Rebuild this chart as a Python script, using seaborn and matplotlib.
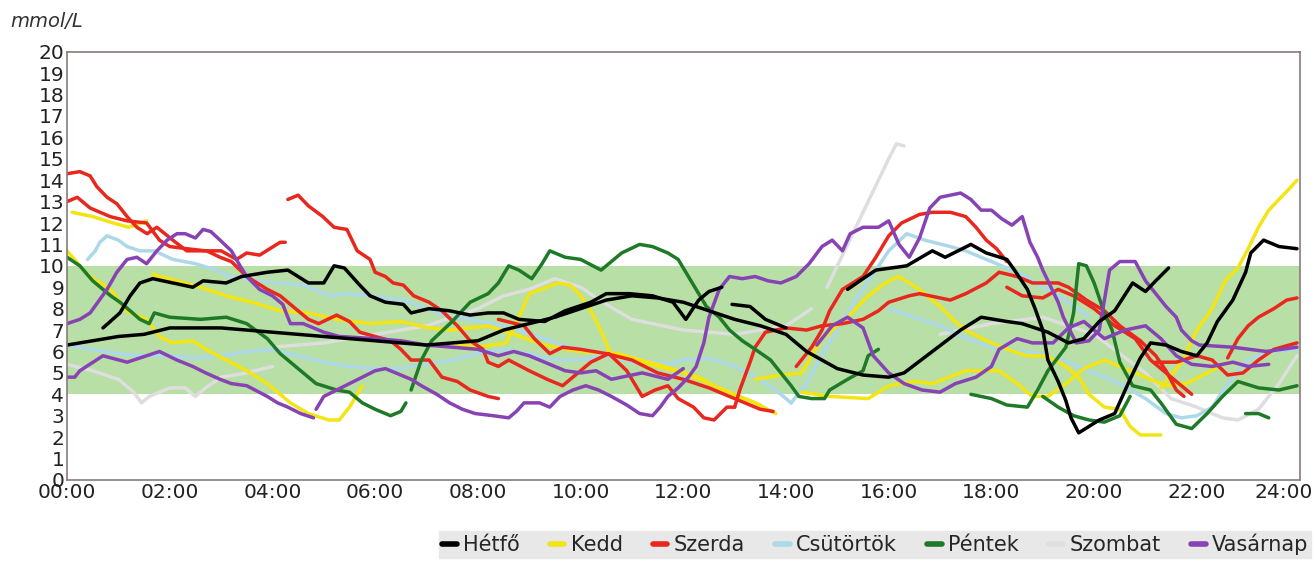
import pandas as pd
import numpy as np
import seaborn as sns
import matplotlib.pyplot as plt
from matplotlib.lines import Line2D
from matplotlib.ticker import MultipleLocator
from matplotlib.transforms import ScaledTranslation

# glucose traces, (hour, mmol/L); several weeks per weekday
hetfo = [
    [(0,6.3),(0.5,6.5),(1,6.7),(1.5,6.8),(2,7.1),(2.5,7.1),(3,7.1),(3.5,7.0),(4,6.9),(4.5,6.8),(5,6.7),(5.5,6.6),(6,6.5),(6.5,6.4),(7,6.3),(7.5,6.4),(8,6.5),(8.5,7.0),(9,7.3),(9.5,7.6),(10,8.0),(10.5,8.4),(11,8.6),(11.5,8.5),(12,8.3),(12.5,7.9),(13,7.5),(13.5,7.2),(14,6.8),(14.4,6.0),(15,5.2),(15.5,4.9),(16,4.8),(16.3,5.0),(16.85,6.0),(17.4,7.0),(17.8,7.6),(18.3,7.4),(18.6,7.3)],
    [(0.7,7.1),(1.03,7.8),(1.23,8.6),(1.42,9.2),(1.67,9.4),(2.06,9.2),(2.45,9.0),(2.65,9.3),(3.1,9.2),(3.4,9.5),(3.9,9.7),(4.3,9.8),(4.7,9.2),(5.0,9.2),(5.2,10.0),(5.4,9.9),(5.55,9.5),(5.7,9.1),(5.9,8.6),(6.2,8.3),(6.55,8.2),(6.7,7.8),(7.05,8.0),(7.45,7.9),(7.85,7.7),(8.2,7.8),(8.5,7.8),(8.8,7.5),(9.3,7.4),(9.7,7.9),(10.2,8.3),(10.5,8.7),(10.95,8.7),(11.4,8.6),(11.8,8.3),(12.05,7.5),(12.3,8.4),(12.5,8.8),(12.75,9.0)],
    [(12.95,8.2),(13.3,8.1),(13.6,7.5),(14.0,7.1)],
    [(15.2,8.9),(15.5,9.4),(15.75,9.8),(16.35,10.0),(16.85,10.7),(17.1,10.4),(17.6,11.0),(17.9,10.6),(18.3,10.3),(18.45,9.8),(18.7,8.9),(18.85,8.0),(19.0,7.0),(19.1,5.6),(19.3,4.6),(19.45,3.7),(19.55,2.9),(19.7,2.2),(19.9,2.5),(20.1,2.8),(20.4,3.1),(20.55,3.9),(20.7,4.7),(20.9,5.7),(21.1,6.4),(21.4,6.3),(21.7,6.0),(22.0,5.8),(22.2,6.4),(22.4,7.4),(22.7,8.4),(22.95,9.7),(23.05,10.6),(23.3,11.2),(23.6,10.9),(23.95,10.8)],
    [(18.6,7.3),(19.1,6.9),(19.5,6.4),(19.8,6.6),(20.1,7.4),(20.4,7.9),(20.75,9.2),(21.0,8.8),(21.2,9.3),(21.45,9.9)],
]
kedd = [
    [(0.1,12.5),(0.5,12.3),(0.9,12.0),(1.2,11.8),(1.55,12.1)],
    [(0,10.7),(0.25,10.0),(0.45,9.5),(0.85,8.9),(1.15,7.9),(1.55,7.5),(1.8,6.7),(2.05,6.4),(2.45,6.5),(2.7,6.1),(3.1,5.6),(3.5,5.1),(3.9,4.5),(4.35,3.6),(4.7,3.1),(5.1,2.8),(5.3,2.8),(5.5,3.4),(5.75,4.4)],
    [(1.67,9.6),(2.6,9.0),(3.1,8.6),(3.6,8.3),(4.15,7.9),(4.7,7.8),(5.25,7.5),(5.9,7.3),(6.5,7.4),(7.05,7.1),(7.5,7.0),(8.2,7.2),(8.7,6.8),(9.3,6.3),(10.0,6.0),(10.75,5.9),(11.5,5.4),(12.3,4.8),(12.75,4.2),(13.4,3.6),(13.8,3.1)],
    [(7.5,6.4),(8.0,6.2),(8.55,6.4),(8.8,7.6),(9.0,8.7),(9.35,9.0),(9.55,9.2),(9.8,9.1),(10.0,8.6),(10.2,7.9),(10.35,7.2),(10.5,6.4),(10.6,5.8),(11.0,5.6),(11.5,5.3),(12.0,5.0),(12.5,4.5),(13.0,4.0),(13.5,3.5)],
    [(13.4,4.7),(13.9,4.9),(14.3,5.0),(14.7,6.6),(15.2,7.6),(15.6,8.6),(16.0,9.3),(16.2,9.5),(16.6,8.9),(17.0,8.1),(17.25,7.5),(17.5,7.0),(17.9,6.5),(18.3,6.1),(18.7,5.8),(19.1,5.8),(19.45,5.3),(19.7,4.8),(19.9,4.0),(20.2,3.4),(20.5,3.3),(20.7,2.5),(20.9,2.1),(21.3,2.1)],
    [(14.3,4.1),(14.85,3.9),(15.6,3.8),(16.0,4.4),(16.5,4.6),(16.85,4.5),(17.5,5.1),(18.15,5.1),(18.5,4.5),(18.8,3.9),(19.1,3.9),(19.45,4.5),(19.8,5.2),(20.2,5.6),(20.6,5.2),(21.0,4.8),(21.4,4.4),(21.8,4.5),(22.2,5.0),(22.6,5.5)],
    [(21.3,4.3),(21.7,5.5),(22.0,7.0),(22.3,8.0),(22.55,9.3),(22.8,9.9),(23.0,10.8),(23.2,11.8),(23.4,12.6),(23.6,13.1),(23.8,13.6),(23.95,14.0)],
]
szerda = [
    [(0,14.3),(0.25,14.4),(0.45,14.2),(0.58,13.7),(0.78,13.2),(0.97,12.9),(1.17,12.3),(1.36,11.8),(1.56,11.5),(1.75,11.8),(2.06,11.2),(2.33,10.7),(2.72,10.7),(2.98,10.4),(3.2,10.2),(3.5,9.5),(3.9,8.9),(4.15,8.6),(4.3,8.3),(4.7,7.5),(4.9,7.3),(5.25,7.7),(5.5,7.4),(5.7,6.9),(6.0,6.7),(6.3,6.5),(6.5,6.1),(6.7,5.6),(7.05,5.6),(7.3,4.8),(7.6,4.6),(7.85,4.2),(8.2,3.9),(8.4,3.8)],
    [(0,13.0),(0.2,13.2),(0.45,12.7),(0.84,12.3),(1.17,12.1),(1.55,12.0),(1.8,11.2),(2.0,10.9),(2.33,10.8),(2.7,10.7),(3.0,10.7),(3.3,10.3),(3.5,10.6),(3.75,10.5),(3.95,10.8),(4.15,11.1),(4.25,11.1)],
    [(4.3,13.1),(4.5,13.3),(4.7,12.8),(4.98,12.3),(5.2,11.8),(5.45,11.7),(5.65,10.7),(5.9,10.3),(6.0,9.7),(6.2,9.5),(6.35,9.2),(6.55,9.1),(6.75,8.6),(7.05,8.3),(7.3,7.9),(7.6,7.2),(7.85,6.5),(8.1,6.1),(8.2,5.5),(8.4,5.3),(8.6,5.6),(9.0,5.1),(9.35,4.7),(9.65,4.4),(9.9,4.9),(10.2,5.5),(10.55,5.9),(10.9,5.1),(11.2,3.9),(11.45,4.2),(11.7,4.4),(11.9,3.8),(12.2,3.4),(12.4,2.9),(12.6,2.8),(12.85,3.4),(13.0,3.4)],
    [(8.4,7.5),(8.9,7.2),(9.1,6.6),(9.4,5.9),(9.65,6.2),(10.0,6.1),(10.5,5.9),(11.0,5.6),(11.5,5.0),(12.0,4.7),(12.5,4.3),(13.0,3.8),(13.5,3.3),(13.75,3.2)],
    [(13.0,3.4),(13.1,4.2),(13.3,5.5),(13.4,6.2),(13.6,6.9),(14.0,7.1),(14.4,7.0),(14.7,7.2),(15.1,7.3),(15.5,7.5),(15.8,7.9),(16.0,8.3),(16.4,8.6),(16.6,8.7),(17.2,8.4),(17.5,8.7),(17.9,9.2),(18.15,9.7),(18.5,9.5),(18.8,9.2),(19.3,9.2),(19.5,9.0),(19.85,8.4),(20.2,7.9),(20.5,7.2),(20.9,6.5),(21.2,5.8),(21.4,5.1),(21.6,4.2),(21.75,3.9)],
    [(14.2,5.3),(14.5,6.2),(14.7,7.0),(14.85,7.9),(15.1,8.9),(15.5,9.5),(15.75,10.4),(16.0,11.4),(16.25,12.0),(16.6,12.4),(16.85,12.5),(17.2,12.5),(17.5,12.3),(17.7,11.8),(17.9,11.2),(18.1,10.8),(18.3,10.2)],
    [(18.3,9.0),(18.6,8.6),(19.0,8.5),(19.3,8.9),(19.6,8.6),(20.0,8.0),(20.4,7.2),(20.8,6.6),(21.1,5.6),(21.4,5.0),(21.6,4.6),(21.9,4.0)],
    [(21.2,5.5),(21.6,5.5),(22.0,5.8),(22.3,5.6),(22.6,4.9),(22.9,5.0),(23.2,5.6),(23.5,6.1),(23.8,6.3),(23.95,6.4)],
    [(22.6,5.7),(22.8,6.6),(23.0,7.2),(23.2,7.6),(23.5,8.0),(23.75,8.4),(23.95,8.5)],
]
csutortok = [
    [(0.4,10.3),(0.55,10.7),(0.64,11.1),(0.78,11.4),(1.0,11.2),(1.17,10.9),(1.42,10.7),(1.7,10.7),(2.06,10.3),(2.5,10.1),(2.9,9.8),(3.2,9.5),(3.75,9.3),(4.1,9.2),(4.6,9.1),(5.1,8.6),(5.5,8.7),(5.9,8.6),(6.55,8.4),(7.0,8.0),(7.45,7.6),(7.85,7.5),(8.3,7.3),(8.8,7.0),(9.3,6.6),(9.8,6.2),(10.3,6.0),(10.8,5.9),(11.3,5.6),(11.8,5.4)],
    [(0,6.3),(0.5,6.1),(1.0,5.9),(1.5,5.8),(2.0,5.8),(2.5,5.7),(3.0,5.8),(3.5,6.0),(4.0,6.1),(4.5,5.8),(5.0,5.5),(5.5,5.3),(6.0,5.2),(6.5,5.2),(7.0,5.4),(7.5,5.6),(8.0,5.9),(8.5,6.1),(9.0,5.9),(9.5,5.6),(10.0,5.6),(10.5,5.8),(11.0,5.5),(11.5,5.3),(12.0,5.6),(12.5,5.7),(13.0,5.3),(13.5,4.7),(13.9,4.0),(14.1,3.6)],
    [(14.1,3.6),(14.4,4.5),(14.7,5.8),(15.0,7.0),(15.4,8.6),(15.75,9.8),(16.0,10.7),(16.35,11.5),(16.7,11.2),(17.2,10.9),(17.5,10.7),(17.9,10.3),(18.2,10.0),(18.6,9.6),(19.0,9.0),(19.5,8.3),(19.9,7.6)],
    [(16.0,8.0),(16.5,7.6),(17.0,7.2),(17.5,6.6),(18.0,6.2),(18.5,6.0),(19.0,5.9),(19.5,5.5),(20.0,5.0),(20.5,4.5),(21.0,3.8),(21.4,3.1),(21.7,2.9),(22.0,3.0),(22.3,3.4),(22.6,4.5),(23.0,5.6),(23.4,6.0),(23.95,6.1)],
]
pentek = [
    [(0,10.4),(0.25,10.0),(0.5,9.3),(0.7,8.9),(0.85,8.6),(1.03,8.3),(1.23,7.9),(1.42,7.5),(1.6,7.3),(1.7,7.8),(2.0,7.6),(2.6,7.5),(3.1,7.6),(3.5,7.3),(3.9,6.6),(4.15,5.9),(4.35,5.5),(4.6,5.0),(4.85,4.5),(5.25,4.2),(5.5,4.1),(5.75,3.6),(6.0,3.3),(6.3,3.0),(6.5,3.2),(6.6,3.6)],
    [(6.7,4.2),(6.9,5.6),(7.1,6.5),(7.5,7.4),(7.85,8.3),(8.2,8.7),(8.4,9.2),(8.6,10.0),(8.8,9.8),(9.05,9.4),(9.25,10.1),(9.4,10.7),(9.7,10.4),(10.0,10.3),(10.4,9.8),(10.6,10.2),(10.8,10.6),(11.15,11.0),(11.4,10.9),(11.7,10.6),(11.9,10.3),(12.1,9.5),(12.45,8.1),(12.7,7.6),(12.9,7.0),(13.15,6.5),(13.4,6.1),(13.7,5.6),(13.9,5.0),(14.1,4.4),(14.25,3.9),(14.5,3.8),(14.75,3.8),(14.85,4.2),(15.2,4.7),(15.5,5.1),(15.6,5.8),(15.8,6.1)],
    [(17.6,4.0),(18.0,3.8),(18.3,3.5),(18.7,3.4),(18.9,4.2),(19.1,5.1),(19.45,6.2),(19.6,7.8),(19.7,10.1),(19.85,10.0),(20.0,9.2),(20.2,7.8),(20.35,7.0),(20.5,5.5),(20.75,4.4),(21.1,4.2),(21.3,3.6),(21.6,2.6),(21.9,2.4),(22.2,3.1),(22.5,3.9),(22.8,4.6),(23.2,4.3),(23.6,4.2),(23.95,4.4)],
    [(19.0,3.9),(19.3,3.4),(19.6,3.0),(19.9,2.8),(20.2,2.7),(20.5,3.0),(20.7,3.9)],
    [(22.95,3.1),(23.2,3.1),(23.4,2.9)],
]
szombat = [
    [(0,5.4),(0.5,5.1),(1.0,4.7),(1.3,4.1),(1.45,3.6),(1.6,3.9),(2.0,4.3),(2.3,4.3),(2.5,3.9),(2.7,4.3),(3.0,4.8),(3.5,5.0),(4.0,5.3)],
    [(14.8,9.0),(15.0,10.0),(15.2,11.0),(15.4,12.0),(15.6,13.0),(15.8,14.0),(16.0,15.0),(16.15,15.7),(16.3,15.6)],
    [(4.0,6.2),(5.0,6.4),(6.0,6.8),(7.0,7.2),(8.0,8.0),(8.5,8.6),(9.0,8.9),(9.5,9.4),(10.0,9.0),(10.5,8.2),(11.0,7.5),(12.0,7.0),(13.0,6.8),(14.0,7.2),(14.5,8.0)],
    [(17.0,6.8),(18.0,7.3),(19.0,7.6),(20.0,6.8),(21.0,5.0),(21.5,3.8),(22.0,3.4),(22.5,2.9),(22.8,2.8),(23.2,3.3),(23.6,4.5),(23.95,5.8)],
]
vasarnap = [
    [(0,7.3),(0.25,7.5),(0.45,7.8),(0.6,8.3),(0.78,8.9),(0.97,9.7),(1.17,10.3),(1.36,10.4),(1.55,10.1),(1.75,10.7),(1.95,11.2),(2.14,11.5),(2.3,11.5),(2.5,11.3),(2.65,11.7),(2.8,11.6),(2.98,11.2),(3.2,10.7),(3.37,10.0),(3.5,9.5),(3.75,8.9),(4.0,8.6),(4.2,8.2),(4.35,7.3),(4.6,7.3),(5.0,6.9),(5.3,6.7),(6.0,6.6),(6.5,6.5),(7.0,6.3),(7.5,6.2),(8.0,6.1),(8.4,5.8),(8.7,6.0),(9.0,5.8),(9.3,5.5),(9.7,5.1),(10.0,5.0),(10.3,5.1),(10.6,4.7),(11.2,5.0),(11.7,4.7),(12.0,5.2)],
    [(0,4.8),(0.15,4.8),(0.25,5.1),(0.7,5.8),(1.17,5.5),(1.55,5.8),(1.8,6.0),(2.14,5.6),(2.45,5.3),(2.7,5.0),(2.98,4.7),(3.2,4.5),(3.5,4.4),(3.9,3.9),(4.1,3.6),(4.3,3.4),(4.55,3.1),(4.8,2.9)],
    [(4.85,3.3),(5.0,3.9),(5.25,4.2),(5.5,4.5),(5.75,4.8),(6.0,5.1),(6.2,5.2),(6.4,5.0),(6.7,4.7),(6.9,4.4),(7.2,4.0),(7.45,3.6),(7.7,3.3),(7.95,3.1),(8.3,3.0),(8.6,2.9),(8.75,3.2),(8.9,3.6),(9.2,3.6),(9.4,3.4),(9.6,3.9),(9.85,4.2),(10.1,4.4),(10.35,4.2),(10.6,3.9),(10.9,3.5),(11.15,3.1),(11.4,3.0),(11.55,3.4),(11.7,3.9),(11.9,4.3),(12.1,4.8),(12.25,5.3),(12.4,6.4),(12.5,7.6),(12.7,8.9),(12.9,9.5),(13.15,9.4),(13.4,9.5),(13.65,9.3),(13.9,9.2),(14.2,9.5),(14.45,10.1),(14.7,10.9),(14.9,11.2),(15.1,10.7),(15.25,11.5),(15.5,11.8),(15.8,11.8),(16.0,12.1),(16.2,11.0),(16.4,10.4),(16.6,11.3),(16.8,12.7),(17.0,13.2),(17.4,13.4),(17.6,13.1),(17.8,12.6),(18.0,12.6),(18.2,12.2),(18.4,11.9),(18.6,12.3),(18.75,11.1),(18.9,10.4),(19.0,9.8),(19.2,8.8),(19.3,8.3),(19.4,7.6),(19.65,6.4),(19.9,6.5),(20.1,7.0),(20.3,9.8),(20.5,10.2),(20.8,10.2),(21.0,9.3),(21.2,8.7),(21.4,8.1),(21.6,7.6),(21.7,7.0),(21.9,6.5),(22.05,6.3),(22.7,6.2),(23.35,6.0),(23.95,6.2)],
    [(14.6,6.3),(14.9,7.2),(15.2,7.6),(15.5,7.1),(15.7,5.8),(16.0,5.0),(16.3,4.5),(16.65,4.2),(17.0,4.1),(17.3,4.5),(17.7,4.8),(18.0,5.3),(18.15,6.1),(18.5,6.6),(18.8,6.4),(19.2,6.4),(19.5,7.1),(19.8,7.4),(20.2,6.6),(20.6,7.0),(21.0,7.2),(21.3,6.6),(21.6,5.8),(21.9,5.4),(22.3,5.3),(22.7,5.5),(23.0,5.3),(23.4,5.4)],
]

days = ["Hétfő", "Kedd", "Szerda", "Csütörtök", "Péntek", "Szombat", "Vasárnap"]
colors = ["#000000", "#f3e414", "#e8271e", "#acd8e8", "#1f7a28", "#dedede", "#8743b3"]
traces = [hetfo, kedd, szerda, csutortok, pentek, szombat, vasarnap]
hour_ticks = list(range(0, 25, 2))
hour_labels = [f"{h:02d}:00" for h in hour_ticks]

rows = []
for day, tr in zip(days, traces):
    for i, pts in enumerate(tr):
        for h, v in pts:
            rows.append((day, f"{day}-{i}", h, v))
df = pd.DataFrame(rows, columns=["day", "trace", "hour", "value"])

palette = dict(zip(days, colors))
# pale days first so they sit underneath
draw_order = ["Szombat", "Csütörtök", "Kedd", "Szerda", "Péntek", "Vasárnap", "Hétfő"]

sns.set_style("white")
plt.rcParams["font.family"] = ["DejaVu Sans"]

fig = plt.figure(figsize=(13.14, 5.62), dpi=100)
ax = fig.add_axes([0.051, 0.146, 0.938, 0.762])

ax.axhspan(4, 10, color="#b8dfa6", zorder=0, lw=0)
sns.lineplot(data=df, x="hour", y="value", hue="day", units="trace", estimator=None,
             palette=palette, hue_order=draw_order, sort=False, lw=2.5, legend=False, ax=ax)

ax.set_xlim(0, 24)
ax.set_ylim(0, 20)
ax.set_xticks(hour_ticks, hour_labels)
ax.xaxis.set_minor_locator(MultipleLocator(1))
ax.yaxis.set_major_locator(MultipleLocator(1))
ax.tick_params(axis="both", which="both", direction="in", length=4, color="#8a7a7a",
               labelsize=14.5, labelcolor="#222222", pad=2)
ax.set_xlabel("")
ax.set_ylabel("")
for s in ax.spines.values():
    s.set_color("#8a7a7a")
    s.set_linewidth(1.2)

# last hour label is pushed back inside the canvas, as in the source chart
last = ax.get_xticklabels()[-1]
last.set_horizontalalignment("right")
last.set_transform(last.get_transform() + ScaledTranslation(0.13, 0, fig.dpi_scale_trans))

fig.text(0.008, 0.952, "mmol/L", fontsize=14, style="italic", color="#333333")

handles = [Line2D([0], [0], color=c, lw=4) for c in colors]
leg = fig.legend(handles, days, loc="lower right", bbox_to_anchor=(1.006, -0.012), ncol=7,
                 frameon=True, fancybox=False, facecolor="#e8e8e8", edgecolor="#e8e8e8",
                 handlelength=0.7, handletextpad=0.3, columnspacing=1.45, borderpad=0.15,
                 fontsize=15)
leg.get_frame().set_alpha(1)

fig.savefig("out.png", dpi=100)
